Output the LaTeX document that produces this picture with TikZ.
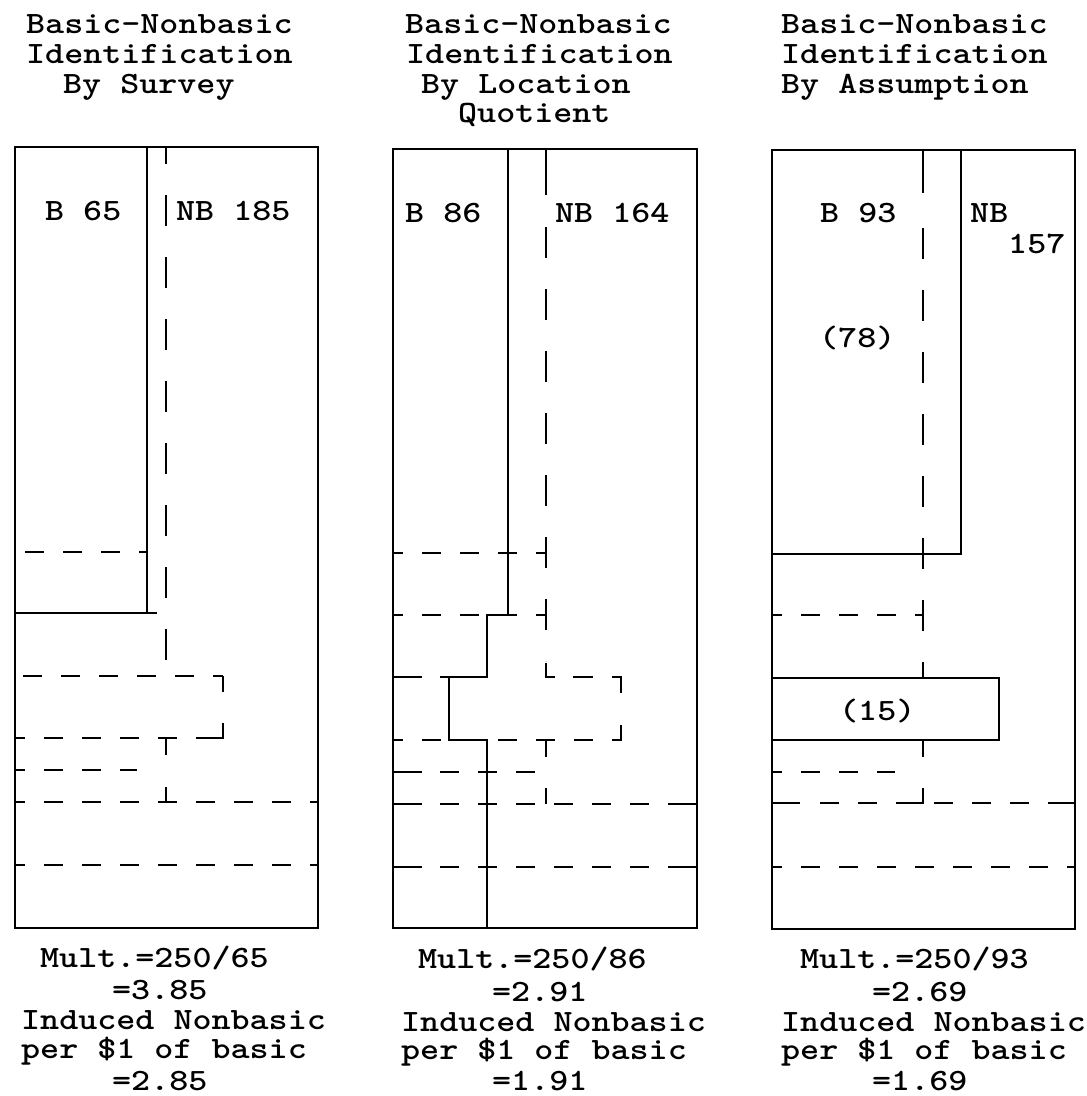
\documentclass[tikz,border=0pt]{standalone}
\usepackage{graphicx}
% typewriter text, widened a little to a Courier-like pitch
\newcommand{\tw}[1]{\scalebox{1.17}[1]{#1}}
\tikzset{
  frame/.style={line width=2.2pt},
  hd/.style={line width=2.2pt, dash pattern=on 19pt off 19pt, dash phase=9pt},
  hdz/.style={line width=2.2pt, dash pattern=on 19pt off 19pt},
  vd/.style={line width=2.2pt, dash pattern=on 31pt off 31pt},
  lbl/.style={inner sep=0pt, anchor=base west,
              font=\ttfamily\fontseries{b}\fontsize{31}{31}\selectfont}
}
\begin{document}
\begin{tikzpicture}[x=1pt, y=-1pt]
\useasboundingbox (0,0) rectangle (1087,1096);

% ---------------- Panel 1: by survey ----------------
\draw[frame] (15,147) rectangle (318,928);
\draw[frame] (147,147) -- (147,613);
\draw[frame] (15,613) -- (157,613);
\draw[vd, dash phase=14pt] (166,147) -- (166,660);
\draw[frame] (166,738) -- (166,755);
\draw[frame] (166,787) -- (166,802);
\draw[hdz] (25,552) -- (147,552);
\draw[hdz] (23,676) -- (223,676);
\draw[frame, dash pattern=on 16pt off 31pt] (223,676) -- (223,739);
\draw[hd] (15,738) -- (223,738);
\draw[frame] (196,738) -- (223,738);
\draw[hd] (15,770) -- (137,770);
\draw[hd] (15,802) -- (318,802);
\draw[hd] (15,865) -- (318,865);

\node[lbl] (t1a) at (26,33) {\tw{Basic-Nonbasic}};
\node[lbl] (t1b) at (26,63) {\tw{Identification}};
\node[lbl] (t1c) at (63,93) {\tw{By Survey}};
\node[lbl] (b1) at (45,220) {\tw{B 65}};
\node[lbl] (n1) at (176,220) {\tw{NB 185}};
\node[lbl] (m1a) at (40,967) {\tw{Mult.=250/65}};
\node[lbl] (m1b) at (112,999) {\tw{=3.85}};
\node[lbl] (m1c) at (21,1029) {\tw{Induced Nonbasic}};
\node[lbl] (m1d) at (21,1058) {\tw{per \$1 of basic}};
\node[lbl] (m1e) at (112,1090) {\tw{=2.85}};

% ---------------- Panel 2: by location quotient ----------------
\draw[frame] (393,149) rectangle (697,928);
\draw[frame] (508,149) -- (508,615) -- (487,615) -- (487,677) -- (449,677)
             -- (449,740) -- (487,740) -- (487,928);
\draw[frame] (546,149) -- (546,195);
\draw[vd] (546,227) -- (546,661);
\draw[frame] (546,663) -- (546,677) -- (555,677);
\draw[frame] (573,677) -- (593,677);
\draw[frame] (612,677) -- (621,677) -- (621,693);
\draw[frame] (621,725) -- (621,740) -- (612,740);
\draw[hd] (393,740) -- (612,740);
\draw[frame] (546,740) -- (546,757);
\draw[frame] (546,788) -- (546,804);
\draw[hd] (393,553) -- (546,553);
\draw[hd] (393,615) -- (546,615);
\draw[frame] (393,677) -- (422,677);
\draw[frame] (440,677) -- (449,677);
\draw[frame] (393,772) -- (422,772);
\draw[hdz] (440,772) -- (535,772);
\draw[frame] (393,804) -- (422,804);
\draw[hdz] (440,804) -- (697,804);
\draw[frame] (668,804) -- (697,804);
\draw[frame] (393,867) -- (422,867);
\draw[hdz] (440,867) -- (697,867);
\draw[frame] (668,867) -- (697,867);

\node[lbl] (t2a) at (405,33) {\tw{Basic-Nonbasic}};
\node[lbl] (t2b) at (406,63) {\tw{Identification}};
\node[lbl] (t2c) at (421,93) {\tw{By Location}};
\node[lbl] (t2d) at (458,122) {\tw{Quotient}};
\node[lbl] (b2) at (405,222) {\tw{B 86}};
\node[lbl] (n2) at (555,222) {\tw{NB 164}};
\node[lbl] (m2a) at (418,968) {\tw{Mult.=250/86}};
\node[lbl] (m2b) at (492,1001) {\tw{=2.91}};
\node[lbl] (m2c) at (401,1031) {\tw{Induced Nonbasic}};
\node[lbl] (m2d) at (401,1059) {\tw{per \$1 of basic}};
\node[lbl] (m2e) at (492,1090) {\tw{=1.91}};

% ---------------- Panel 3: by assumption ----------------
\draw[frame] (772,150) rectangle (1075,929);
\draw[frame] (961,150) -- (961,554) -- (772,554);
\draw[frame] (923,150) -- (923,193);
\draw[vd] (923,228) -- (923,677);
\draw[frame] (923,740) -- (923,757);
\draw[frame] (915,803) -- (923,803) -- (923,788);
\draw[hd] (772,615) -- (923,615);
\draw[frame] (772,678) rectangle (999,740);
\draw[hd] (772,772) -- (895,772);
\draw[frame] (772,803) -- (800,803);
\draw[hdz] (820,803) -- (1075,803);
\draw[frame] (1067,803) -- (1075,803);
\draw[hd] (772,867) -- (1075,867);

\node[lbl] (t3a) at (781,33) {\tw{Basic-Nonbasic}};
\node[lbl] (t3b) at (781,63) {\tw{Identification}};
\node[lbl] (t3c) at (781,93) {\tw{By Assumption}};
\node[lbl] (b3) at (820,222) {\tw{B 93}};
\node[lbl] (n3a) at (970,222) {\tw{NB}};
\node[lbl] (n3b) at (1008,253) {\tw{157}};
\node[lbl] (p78) at (819,347) {\tw{(78)}};
\node[lbl] (p15) at (839,720) {\tw{(15)}};
\node[lbl] (m3a) at (800,968) {\tw{Mult.=250/93}};
\node[lbl] (m3b) at (872,1001) {\tw{=2.69}};
\node[lbl] (m3c) at (781,1031) {\tw{Induced Nonbasic}};
\node[lbl] (m3d) at (781,1059) {\tw{per \$1 of basic}};
\node[lbl] (m3e) at (872,1090) {\tw{=1.69}};
\end{tikzpicture}
\end{document}
